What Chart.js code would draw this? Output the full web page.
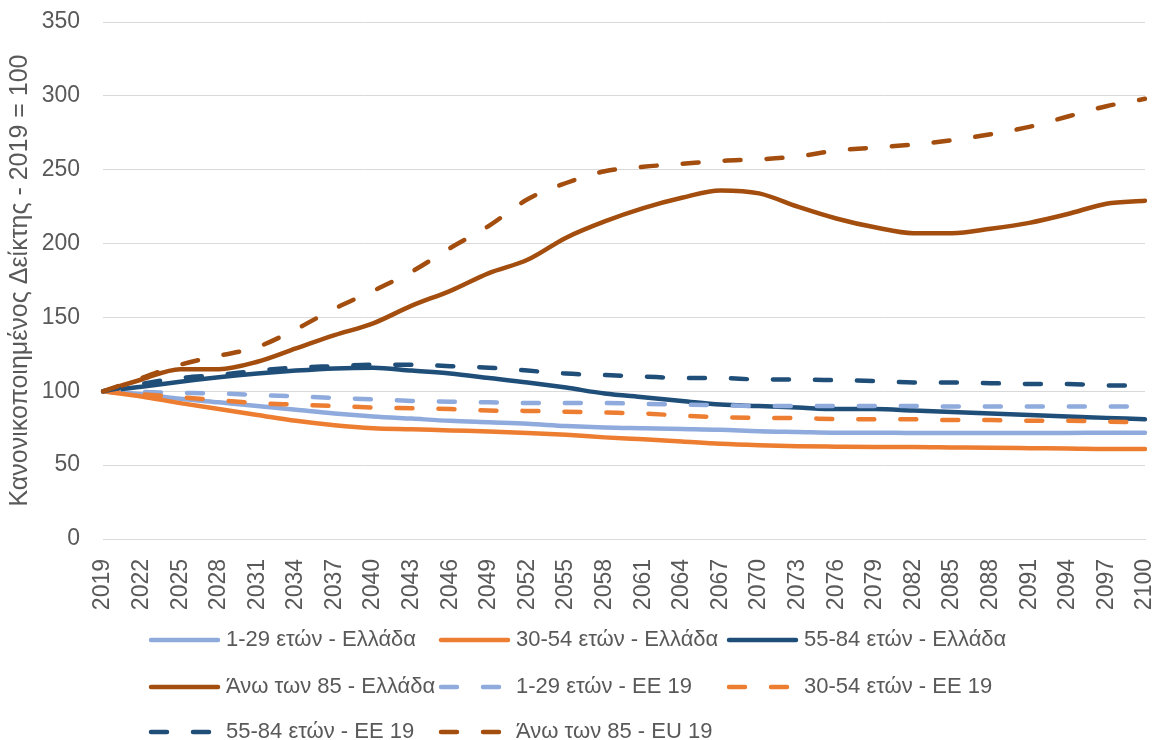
<!DOCTYPE html>
<html>
<head>
<meta charset="utf-8">
<script src="https://cdn.jsdelivr.net/npm/chart.js@4.4.0/dist/chart.umd.min.js"></script>
<style>
  html, body { margin: 0; padding: 0; background: #fff; }
</style>
</head>
<body>
<canvas id="myChart" width="1152" height="740"></canvas>
<script>
// years on the x axis (every 3 years)
const years = ['2019', '2022', '2025', '2028', '2031', '2034', '2037', '2040', '2043', '2046',
  '2049', '2052', '2055', '2058', '2061', '2064', '2067', '2070', '2073', '2076',
  '2079', '2082', '2085', '2088', '2091', '2094', '2097', '2100'];

// Ελλάδα
const greece1_29 = [100, 98, 95, 92.5, 90, 87.5, 85, 83, 81.5, 80, 79, 78, 76.5, 75.5,
  75, 74.5, 74, 73, 72.5, 72, 72, 71.7, 71.7, 71.7, 71.7, 71.8, 71.9, 72];
const greece30_54 = [100, 96.5, 92, 88, 84, 80, 77, 75, 74.3, 73.5, 72.8, 71.8, 70.5, 68.8,
  67.5, 66, 64.5, 63.5, 62.8, 62.5, 62.3, 62.3, 62, 61.7, 61.5, 61.3, 61, 61];
const greece55_84 = [100, 103, 106.5, 109.5, 112, 114, 115.5, 116, 114, 112, 109, 106, 102.5, 98.5,
  96, 93.5, 91, 90, 89, 88, 88, 87, 86, 85, 84, 83, 82, 81];
const greece85 = [100, 108, 115, 115, 120, 129, 138, 146, 158, 168, 180, 189, 204, 215,
  224, 231, 236, 234, 225, 217, 211, 207, 207, 210, 214, 220, 227, 229];

// ΕΕ 19
const ee1_29 = [100, 99.5, 99, 98.5, 97.5, 96.5, 95.5, 94.5, 93.5, 93, 92.5, 92, 92, 92,
  91.5, 91, 90.5, 90, 90, 90, 90, 90, 89.7, 89.7, 89.7, 89.7, 89.7, 89.7];
const ee30_54 = [100, 98, 96, 94, 92, 91, 90, 89, 88.5, 88, 87, 86.7, 86.2, 85.6,
  85, 83.5, 82.5, 82, 81.8, 81.2, 81, 81, 80.5, 80.5, 80, 80, 79.5, 79];
const ee55_84 = [100, 105, 109, 111, 114, 116, 117, 118, 118, 117, 116, 114, 112, 111,
  110, 109, 109, 108, 108, 107.5, 107, 106, 106, 105.5, 105, 105, 104, 104];
const eu85 = [100, 109, 118, 124, 130, 142, 156, 168, 181, 197, 212, 230, 241, 249,
  252, 254, 256, 257, 259, 263, 265, 267, 270, 274, 279, 286, 293, 298];

const seriesNames = [
  '1-29 ετών - Ελλάδα', '30-54 ετών - Ελλάδα', '55-84 ετών - Ελλάδα', 'Άνω των 85 - Ελλάδα',
  '1-29 ετών - ΕΕ 19', '30-54 ετών - ΕΕ 19', '55-84 ετών - ΕΕ 19', 'Άνω των 85 - EU 19'
];
const seriesValues = [greece1_29, greece30_54, greece55_84, greece85, ee1_29, ee30_54, ee55_84, eu85];
const seriesColors = ['#8FAADC', '#ED7D31', '#1F4E79', '#A34E0F', '#8FAADC', '#ED7D31', '#1F4E79', '#A34E0F'];
const seriesDashed = [false, false, false, false, true, true, true, true];

const textColor = '#595959';
const fontFamily = '"Liberation Sans", Arial, sans-serif';

// legend drawn in a 3-column grid, like the Excel original
const gridLegend = {
  id: 'gridLegend',
  afterDraw(chart) {
    const ctx = chart.ctx;
    const cols = [149, 439, 727];
    const rows = [640, 687, 732];
    chart.data.datasets.forEach((ds, i) => {
      const x = cols[i % 3];
      const y = rows[Math.floor(i / 3)];
      ctx.save();
      ctx.strokeStyle = ds.borderColor;
      ctx.lineWidth = ds.borderWidth;
      ctx.lineCap = 'round';
      ctx.setLineDash(ds.borderDash || []);
      ctx.beginPath();
      ctx.moveTo(x + 2, y);
      ctx.lineTo(x + (ds.borderDash ? 66 : 69), y);
      ctx.stroke();
      ctx.setLineDash([]);
      ctx.fillStyle = textColor;
      ctx.font = '22px ' + fontFamily;
      ctx.textBaseline = 'middle';
      ctx.fillText(ds.label, x + 77, y);
      ctx.restore();
    });
  }
};

const ctx = document.getElementById('myChart').getContext('2d');

const myChart = new Chart(ctx, {
  type: 'line',
  data: {
    labels: years,
    datasets: seriesNames.map((name, i) => ({
      label: name,
      data: seriesValues[i],
      borderColor: seriesColors[i],
      backgroundColor: seriesColors[i],
      borderWidth: 4.5,
      borderDash: seriesDashed[i] ? [16, 26] : undefined,
      borderCapStyle: 'round',
      pointRadius: 0,
      cubicInterpolationMode: 'monotone',
      fill: false,
      order: seriesNames.length - i, // later series on top
    })),
  },
  options: {
    responsive: false,
    animation: false,
    devicePixelRatio: 1,
    layout: {
      padding: { top: 22, right: 0, bottom: 131, left: 0 },
    },
    plugins: {
      legend: { display: false },
      tooltip: { enabled: false },
    },
    scales: {
      x: {
        grid: { display: false, drawTicks: false },
        border: { display: true, color: '#D9D9D9', width: 1 },
        ticks: {
          autoSkip: false,
          maxRotation: 90,
          minRotation: 90,
          padding: 20,
          color: textColor,
          font: { family: fontFamily, size: 23 },
        },
        afterFit(scale) {
          scale.height = 70;
          scale.paddingRight = 7;
          scale.paddingTop = 0;
        },
      },
      y: {
        min: 0,
        max: 350,
        ticks: {
          stepSize: 50,
          padding: 23,
          color: textColor,
          font: { family: fontFamily, size: 23 },
        },
        grid: { color: '#D9D9D9', lineWidth: 1, drawTicks: false },
        border: { display: false },
        title: {
          display: true,
          text: 'Κανονικοποιημένος Δείκτης - 2019 = 100',
          color: textColor,
          font: { family: fontFamily, size: 25 },
          padding: { top: 5, bottom: 0 },
        },
        afterFit(scale) {
          scale.width = 103;
          scale.paddingTop = 0;
        },
      },
    },
  },
  plugins: [gridLegend],
});
</script>
</body>
</html>
